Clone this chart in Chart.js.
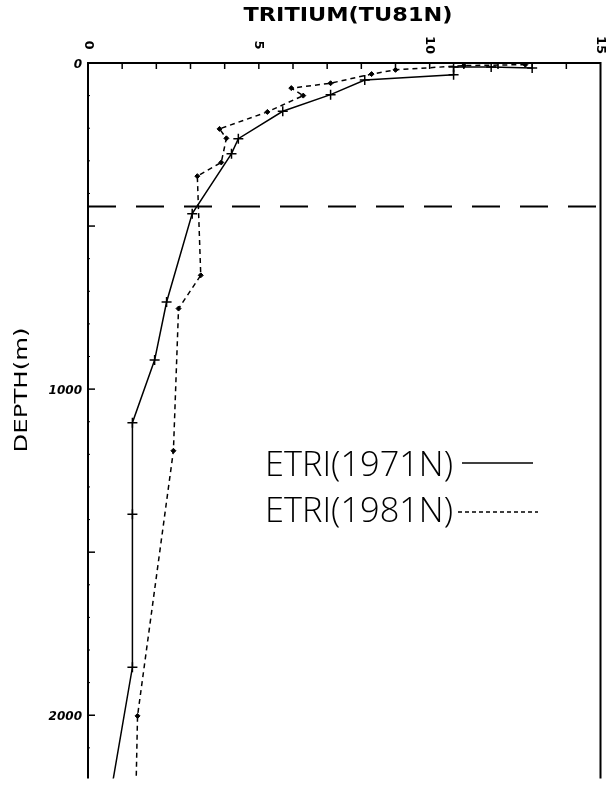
<!DOCTYPE html>
<html>
<head>
<meta charset="utf-8">
<script src="https://cdn.jsdelivr.net/npm/chart.js@4/dist/chart.umd.min.js"></script>
<style>
  html, body { margin: 0; padding: 0; background: #fff; }
  canvas { display: block; }
</style>
</head>
<body>
<canvas id="tritiumChart" width="607" height="785"></canvas>
<script>
// Tritium profiles (TU81N) against depth (m)
const trit1971  = [13.0, 11.8, 10.7, 10.7, 8.1, 7.1, 5.7, 4.4, 4.2, 3.05, 2.3, 1.95, 1.3, 1.3, 1.3, 0.6];
const depth1971 = [15, 12, 12, 36, 52, 97, 148, 232, 278, 462, 733, 911, 1103, 1384, 1853, 2280];

const trit1981  = [12.8, 11.0, 9.0, 8.3, 7.1, 5.95, 6.3, 5.25, 3.85, 4.05, 3.9, 3.2, 3.3, 2.65, 2.5, 1.45, 1.4];
const depth1981 = [5, 8, 21, 34, 62, 77, 100, 150, 202, 231, 305, 347, 651, 753, 1189, 2002, 2250];

const xTicks = [0, 5, 10, 15];
const yTicks = [0, 1000, 2000];
const refDepth = 440;   // dashed horizontal reference line
const legendLabels = ['ETRI(1971N)', 'ETRI(1981N)'];

const toPoints = (xs, ys) => xs.map((x, i) => ({ x: x, y: ys[i] }));

function fitText(ctx, text, x, y, width, font, align) {
    ctx.font = font;
    const w = ctx.measureText(text).width;
    ctx.save();
    ctx.translate(x, y);
    ctx.scale(width / w, 1);
    ctx.textAlign = 'left';
    ctx.fillText(text, align === 'center' ? -w / 2 : 0, 0);
    ctx.restore();
}

const framePlugin = {
    id: 'frame',
    afterDraw(chart) {
        const ctx = chart.ctx;
        const xs = chart.scales.x, ys = chart.scales.y;
        const a = chart.chartArea;
        ctx.save();
        ctx.strokeStyle = '#000';
        ctx.fillStyle = '#000';

        // axes box (top, left, right)
        ctx.lineWidth = 2;
        ctx.beginPath();
        ctx.moveTo(a.left, a.bottom);
        ctx.lineTo(a.left, a.top);
        ctx.lineTo(a.right, a.top);
        ctx.lineTo(a.right, a.bottom);
        ctx.stroke();

        // top ticks every unit
        ctx.lineWidth = 1.5;
        for (let v = 1; v < 15; v++) {
            const px = xs.getPixelForValue(v);
            ctx.beginPath();
            ctx.moveTo(px, a.top);
            ctx.lineTo(px, a.top + 6);
            ctx.stroke();
        }
        // left ticks
        for (let d = 100; d < ys.max; d += 100) {
            const py = ys.getPixelForValue(d);
            const len = d % 500 === 0 ? 7 : 2;
            ctx.lineWidth = d % 500 === 0 ? 1.5 : 1;
            ctx.beginPath();
            ctx.moveTo(a.left, py);
            ctx.lineTo(a.left + len, py);
            ctx.stroke();
        }

        // x tick labels, rotated
        ctx.font = 'bold 13px "DejaVu Sans"';
        ctx.textBaseline = 'middle';
        ctx.textAlign = 'center';
        xTicks.forEach(v => {
            const px = xs.getPixelForValue(v);
            ctx.save();
            ctx.translate(px, 45);
            ctx.rotate(Math.PI / 2);
            ctx.fillText(String(v), 0, 0);
            ctx.restore();
        });

        // y tick labels
        ctx.font = 'bold italic 12px "DejaVu Sans"';
        ctx.textAlign = 'right';
        yTicks.forEach(v => {
            const py = ys.getPixelForValue(v);
            ctx.fillText(String(v), a.left - 6, py + 2);
        });

        // dashed reference line
        const ry = ys.getPixelForValue(refDepth);
        ctx.lineWidth = 2;
        ctx.setLineDash([28, 20]);
        ctx.beginPath();
        ctx.moveTo(a.left, ry);
        ctx.lineTo(a.right, ry);
        ctx.stroke();
        ctx.setLineDash([]);

        // titles
        ctx.textBaseline = 'middle';
        fitText(ctx, 'TRITIUM(TU81N)', 348, 16, 209, 'bold 19px "DejaVu Sans"', 'center');
        ctx.save();
        ctx.translate(22, 390);
        ctx.rotate(-Math.PI / 2);
        fitText(ctx, 'DEPTH(m)', 0, 0, 125, '18px "DejaVu Sans"', 'center');
        ctx.restore();

        // legend
        ctx.textBaseline = 'alphabetic';
        const legendFont = '300 35px "Open Sans", "Lato", "Noto Sans"';
        fitText(ctx, legendLabels[0], 265, 476, 188, legendFont, 'left');
        fitText(ctx, legendLabels[1], 265, 522, 188, legendFont, 'left');
        ctx.lineWidth = 1.5;
        ctx.beginPath();
        ctx.moveTo(462, 463);
        ctx.lineTo(533, 463);
        ctx.stroke();
        ctx.setLineDash([4, 3]);
        ctx.beginPath();
        ctx.moveTo(458, 512);
        ctx.lineTo(538, 512);
        ctx.stroke();
        ctx.restore();
    }
};

new Chart(document.getElementById('tritiumChart').getContext('2d'), {
    type: 'scatter',
    data: {
        datasets: [{
            label: legendLabels[0],
            data: toPoints(trit1971, depth1971),
            showLine: true,
            borderColor: '#000',
            backgroundColor: '#000',
            borderWidth: 1.5,
            pointStyle: 'cross',
            pointRadius: 5,
            pointBorderWidth: 1.5
        }, {
            label: legendLabels[1],
            data: toPoints(trit1981, depth1981),
            showLine: true,
            borderColor: '#000',
            backgroundColor: '#000',
            borderWidth: 1.5,
            borderDash: [5, 4],
            pointStyle: 'rectRot',
            pointRadius: 2.5,
            pointBorderWidth: 1
        }]
    },
    options: {
        responsive: false,
        animation: false,
        layout: { padding: { left: 88, right: 5, top: 63, bottom: 0 } },
        plugins: {
            legend: { display: false },
            tooltip: { enabled: false }
        },
        scales: {
            x: { type: 'linear', min: 0, max: 15, display: false },
            y: { type: 'linear', min: 0, max: 2194, reverse: true, display: false }
        }
    },
    plugins: [framePlugin]
});
</script>
</body>
</html>
